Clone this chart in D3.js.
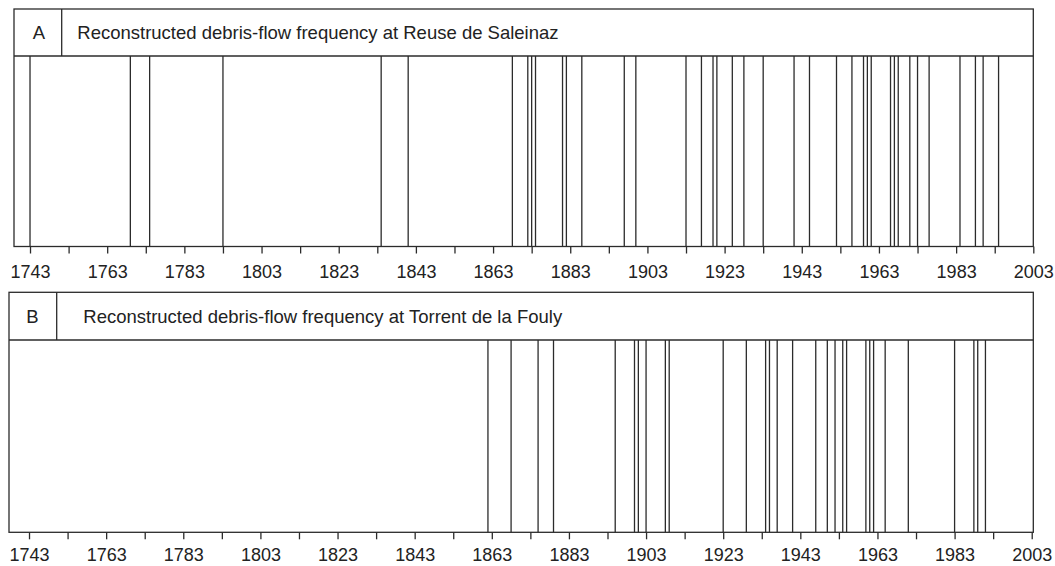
<!DOCTYPE html>
<html>
<head>
<meta charset="utf-8">
<script src="https://cdn.jsdelivr.net/npm/d3@7"></script>
<style>
  html, body { margin: 0; padding: 0; background: #fff; }
  svg { display: block; font-family: "Liberation Sans", Arial, sans-serif; }
</style>
</head>
<body>
<svg id="chart" width="1055" height="566"></svg>
<script>
// ---- data ----
const panelLabels = ["A", "B"];
const panelTitles = [
  "Reconstructed debris-flow frequency at Reuse de Saleinaz",
  "Reconstructed debris-flow frequency at Torrent de la Fouly"
];
const eventsSaleinaz = [1743, 1769, 1774, 1793, 1834, 1841, 1868, 1872, 1873, 1874,
  1881, 1882, 1886, 1897, 1900, 1913, 1917, 1920, 1921, 1925, 1928, 1933, 1941, 1945,
  1952, 1956, 1959, 1960, 1961, 1966, 1967, 1968, 1971, 1973, 1976, 1984, 1988, 1990, 1994];
const eventsFouly = [1862, 1868, 1875, 1879, 1895, 1900, 1901, 1903, 1908, 1909,
  1923, 1929, 1934, 1935, 1937, 1941, 1947, 1950, 1952, 1954, 1955, 1960, 1961, 1962,
  1965, 1971, 1983, 1988, 1989, 1991];
const tickYears = d3.range(1743, 2004, 10);
const labelYears = d3.range(1743, 2004, 20);

// ---- layout ----
const panels = [
  { label: panelLabels[0], title: panelTitles[0], events: eventsSaleinaz,
    domain: [1738.85, 2003], left: 14, right: 1033.3, top: 9, sep: 56, bottom: 246.5,
    divider: 61.7, labelX: 39, textX: 77.3, pad: 12 },
  { label: panelLabels[1], title: panelTitles[1], events: eventsFouly,
    domain: [1737.81, 2003.41], left: 9, right: 1033.3, top: 292.3, sep: 340, bottom: 532.3,
    divider: 56.7, labelX: 32.5, textX: 83.3, pad: 8.5 }
];

const svg = d3.select("#chart");
const ink = "#2b2b2b";

panels.forEach(p => {
  const g = svg.append("g");
  const x = d3.scaleLinear().domain(p.domain).range([p.left, p.right]);

  // event lines
  g.append("g").selectAll("line").data(p.events).join("line")
    .attr("x1", d => x(d)).attr("x2", d => x(d))
    .attr("y1", p.sep).attr("y2", p.bottom)
    .attr("stroke", ink).attr("stroke-width", 1.3);

  // frame
  g.append("rect")
    .attr("x", p.left).attr("y", p.top)
    .attr("width", p.right - p.left).attr("height", p.bottom - p.top)
    .attr("fill", "none").attr("stroke", ink).attr("stroke-width", 1.3);
  g.append("line")
    .attr("x1", p.left).attr("x2", p.right).attr("y1", p.sep).attr("y2", p.sep)
    .attr("stroke", ink).attr("stroke-width", 1.3);
  g.append("line")
    .attr("x1", p.divider).attr("x2", p.divider).attr("y1", p.top).attr("y2", p.sep)
    .attr("stroke", ink).attr("stroke-width", 1.3);

  // header text
  const midY = (p.top + p.sep) / 2;
  g.append("text").attr("x", p.labelX).attr("y", midY)
    .attr("text-anchor", "middle").attr("dominant-baseline", "central")
    .attr("font-size", 18.5).attr("fill", "#222").text(p.label);
  g.append("text").attr("x", p.textX).attr("y", midY)
    .attr("dominant-baseline", "central")
    .attr("font-size", 18.5).attr("fill", "#222").text(p.title);

  // axis
  const axis = d3.axisBottom(x)
    .tickValues(tickYears)
    .tickSize(7)
    .tickSizeOuter(0)
    .tickPadding(p.pad)
    .tickFormat(d => labelYears.includes(d) ? String(d) : "");
  const ag = g.append("g").attr("transform", `translate(0,${p.bottom})`).call(axis);
  ag.select(".domain").remove();
  ag.selectAll(".tick line").attr("stroke", ink).attr("stroke-width", 1.3);
  ag.selectAll(".tick text").attr("font-size", 18).attr("fill", "#222")
    .attr("font-family", "'Liberation Sans', Arial, sans-serif");
});
</script>
</body>
</html>
